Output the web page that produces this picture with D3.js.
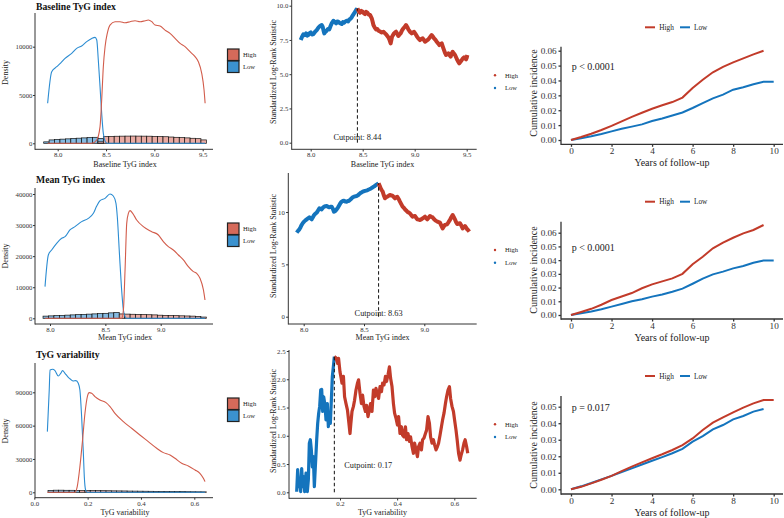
<!DOCTYPE html>
<html><head><meta charset="utf-8">
<script src="https://cdn.jsdelivr.net/npm/d3@7"></script>
<style>body{margin:0;background:#fff}svg{display:block}</style>
</head><body><svg id="c" width="784" height="518"></svg>
<script>
// ---------------- DATA ----------------
const panelTitles = ["Baseline TyG index", "Mean TyG index", "TyG variability"];
const groupLabels = ["High", "Low"];
const cutpoints = [8.44, 8.63, 0.177];
const cutLabels = ["Cutpoint: 8.44", "Cutpoint: 8.63", "Cutpoint: 0.17"];
const pLabels = ["p < 0.0001", "p < 0.0001", "p = 0.017"];
const kmXLabel = "Years of follow-up";
const kmYLabel = "Cumulative incidence";
const statYLabel = "Standardized Log-Rank Statistic";
const densYLabel = "Density";

// tick values
const densXTicks = [[8.0, 8.5, 9.0, 9.5], [8.0, 8.5, 9.0], [0.0, 0.2, 0.4, 0.6]];
const densYTicks = [[0, 5000, 10000], [0, 10000, 20000, 30000, 40000], [0, 30000, 60000, 90000]];
const statXTicks = [[8.0, 8.5, 9.0, 9.5], [8.0, 8.5, 9.0], [0.2, 0.4, 0.6]];
const statYTicks = [[0, 2.5, 5, 7.5, 10], [0, 5, 10], [0, 0.5, 1.0, 1.5, 2.0, 2.5]];
const kmXTicks = [0, 2, 4, 6, 8, 10];
const kmYTicks = [[0, 0.01, 0.02, 0.03, 0.04, 0.05, 0.06], [0, 0.01, 0.02, 0.03, 0.04, 0.05, 0.06], [0, 0.01, 0.02, 0.03, 0.04, 0.05]];

// histogram ranges and bin counts (30 bins each)
const baseHistRange = [7.855, 9.538];
const baseHistLow = [150,350,400,430,460,500,530,560,600,620,500,0,0,0,0,0,0,0,0,0,0,0,0,0,0,0,0,0,0,0];
const baseHistHigh = [0,0,0,0,0,0,0,0,0,0,150,700,720,730,740,745,750,745,740,735,720,700,680,650,620,590,560,520,480,350];
const meanHistRange = [7.937, 9.412];
const meanHistLow = [700,780,860,940,1020,1100,1180,1260,1340,1420,1500,1600,1750,1900,0,0,0,0,0,0,0,0,0,0,0,0,0,0,0,0];
const meanHistHigh = [0,0,0,0,0,0,0,0,0,0,0,0,0,0,1400,1350,1300,1250,1200,1150,1100,1000,950,900,850,800,750,700,600,400];
const varHistRange = [0.0514, 0.645];
const varHistLow = [1700,1900,1900,1800,1800,1700,0,0,0,0,0,0,0,0,0,0,0,0,0,0,0,0,0,0,0,0,0,0,0,0];
const varHistHigh = [0,0,0,0,0,0,1600,1600,1550,1500,1450,1400,1300,1250,1200,1100,1050,1000,950,900,850,800,750,700,650,600,550,500,450,400];

// density curves [x, density]
const baseLowDensity = [[7.896,4140],[7.938,7410],[7.99,7930],[8.03,8300],[8.076,8790],[8.145,9310],[8.197,9830],[8.248,10070],[8.30,10520],[8.352,10860],[8.386,10970],[8.404,10690],[8.42,8620],[8.438,5860],[8.455,3100],[8.472,1030],[8.50,70],[8.52,0],[9.525,0]];
const baseHighDensity = [[7.896,0],[8.352,0],[8.404,345],[8.438,1720],[8.455,4480],[8.472,7930],[8.49,10000],[8.513,11380],[8.541,12240],[8.593,12590],[8.645,12590],[8.697,12480],[8.748,12590],[8.80,12690],[8.852,12590],[8.904,12690],[8.938,12760],[8.973,12590],[9.007,12240],[9.059,12140],[9.11,11720],[9.162,11380],[9.214,10860],[9.266,10340],[9.317,10000],[9.369,9480],[9.421,8970],[9.455,8450],[9.49,7240],[9.514,5520],[9.525,4140]];
const meanLowDensity = [[7.955,10190],[7.985,20375],[8.015,21980],[8.06,24130],[8.105,25740],[8.136,26270],[8.18,28420],[8.226,29490],[8.286,31100],[8.346,32170],[8.392,33780],[8.422,36140],[8.452,37850],[8.497,38600],[8.542,40000],[8.572,39360],[8.596,37000],[8.608,32700],[8.627,20900],[8.645,10190],[8.663,2680],[8.678,540],[8.693,0],[9.40,0]];
const meanHighDensity = [[7.955,0],[8.648,0],[8.663,2680],[8.678,15550],[8.693,30560],[8.708,33780],[8.723,34640],[8.747,33780],[8.783,31630],[8.843,29490],[8.919,27880],[8.979,26810],[9.024,24660],[9.069,23060],[9.114,21980],[9.16,20375],[9.205,18770],[9.25,16620],[9.295,15010],[9.325,14480],[9.355,12870],[9.386,9120],[9.40,5900]];
const varLowDensity = [[0.049,54600],[0.056,92100],[0.059,110100],[0.069,110700],[0.0775,109500],[0.09,104700],[0.099,107100],[0.106,109500],[0.115,107100],[0.1275,103500],[0.136,101700],[0.146,100200],[0.156,100500],[0.165,98100],[0.171,92100],[0.1775,68100],[0.184,35100],[0.1875,14100],[0.1925,2100],[0.199,0],[0.64,0]];
const varHighDensity = [[0.049,0],[0.1525,0],[0.161,5100],[0.171,23100],[0.181,47100],[0.19,71100],[0.199,86100],[0.206,89700],[0.215,89100],[0.2275,86100],[0.246,83100],[0.269,80700],[0.284,77100],[0.3025,71100],[0.334,63600],[0.365,57600],[0.396,51600],[0.4275,45600],[0.459,39600],[0.484,35700],[0.509,33600],[0.5275,30600],[0.5525,26100],[0.5775,23700],[0.6025,20100],[0.621,17100],[0.634,12600],[0.64,9600]];

// standardized log-rank statistic [cut value, statistic]
const baseStatLow = [[7.904,7.49],[7.915,7.7],[7.929,7.91],[7.942,7.85],[7.955,7.98],[7.966,7.82],[7.978,7.86],[7.989,8.0],[8.0,8.05],[8.013,7.9],[8.026,7.93],[8.042,8.1],[8.058,8.22],[8.074,8.4],[8.09,8.52],[8.106,8.59],[8.115,8.47],[8.123,8.2],[8.131,7.98],[8.142,8.1],[8.154,8.18],[8.166,8.3],[8.179,8.27],[8.19,8.5],[8.202,8.71],[8.218,8.9],[8.231,8.8],[8.244,8.71],[8.255,8.85],[8.266,8.83],[8.282,8.72],[8.298,8.66],[8.31,8.8],[8.32,8.76],[8.333,8.85],[8.346,8.9],[8.36,8.85],[8.372,9.0],[8.383,9.05],[8.394,9.15],[8.405,9.3],[8.417,9.44],[8.427,9.55],[8.436,9.68],[8.449,9.8]];
const baseStatHigh = [[8.449,9.8],[8.462,9.6],[8.474,9.49],[8.487,9.62],[8.5,9.56],[8.511,9.45],[8.522,9.39],[8.533,9.55],[8.545,9.49],[8.558,9.35],[8.571,9.32],[8.587,9.08],[8.595,8.85],[8.603,8.59],[8.616,8.4],[8.628,8.27],[8.64,8.3],[8.651,8.18],[8.667,8.12],[8.683,8.05],[8.699,8.1],[8.715,7.98],[8.726,7.9],[8.737,7.79],[8.746,7.7],[8.756,7.54],[8.769,7.25],[8.776,7.5],[8.782,7.74],[8.801,7.98],[8.811,8.05],[8.821,8.1],[8.832,7.95],[8.843,7.79],[8.854,7.9],[8.865,7.98],[8.878,8.2],[8.891,8.35],[8.904,8.45],[8.917,8.59],[8.928,8.45],[8.939,8.27],[8.955,8.1],[8.971,7.98],[8.983,8.05],[8.994,8.1],[9.007,7.95],[9.019,7.79],[9.035,7.62],[9.051,7.49],[9.064,7.58],[9.077,7.62],[9.088,7.5],[9.099,7.37],[9.115,7.45],[9.131,7.54],[9.147,7.7],[9.163,7.86],[9.175,7.75],[9.186,7.62],[9.2,7.5],[9.212,7.37],[9.225,7.25],[9.237,7.13],[9.249,7.2],[9.26,7.25],[9.271,7.0],[9.282,6.76],[9.292,6.55],[9.301,6.4],[9.313,6.45],[9.324,6.52],[9.335,6.4],[9.346,6.28],[9.355,6.5],[9.365,6.64],[9.377,6.5],[9.388,6.4],[9.4,6.2],[9.41,6.03],[9.42,5.9],[9.429,5.79],[9.44,5.9],[9.452,6.03],[9.463,6.15],[9.474,6.23],[9.484,6.15],[9.494,6.08],[9.5,6.2],[9.506,6.4]];
const meanStatLow = [[7.942,8.03],[7.953,8.2],[7.964,8.34],[7.974,8.55],[7.983,8.76],[7.993,8.95],[8.003,9.08],[8.014,9.2],[8.025,9.3],[8.036,9.4],[8.047,9.49],[8.056,9.4],[8.066,9.3],[8.076,9.5],[8.086,9.71],[8.097,9.85],[8.108,9.94],[8.119,10.15],[8.13,10.35],[8.14,10.3],[8.149,10.25],[8.159,10.4],[8.169,10.51],[8.18,10.55],[8.191,10.57],[8.202,10.5],[8.213,10.45],[8.222,10.5],[8.232,10.51],[8.242,10.3],[8.251,10.03],[8.262,10.1],[8.273,10.25],[8.285,10.45],[8.296,10.67],[8.305,10.85],[8.315,10.99],[8.324,11.05],[8.334,11.08],[8.345,11.0],[8.356,10.99],[8.367,11.05],[8.378,11.08],[8.388,11.2],[8.398,11.31],[8.407,11.4],[8.417,11.46],[8.428,11.5],[8.439,11.53],[8.45,11.6],[8.461,11.72],[8.475,11.85],[8.489,11.94],[8.503,12.0],[8.517,12.04],[8.531,12.1],[8.544,12.17],[8.558,12.25],[8.572,12.36],[8.585,12.45],[8.599,12.58],[8.61,12.65],[8.621,12.74]];
const meanStatHigh = [[8.621,12.74],[8.63,12.5],[8.638,12.26],[8.646,12.1],[8.655,11.94],[8.664,11.6],[8.674,11.31],[8.683,11.4],[8.693,11.46],[8.704,11.55],[8.715,11.62],[8.727,11.58],[8.738,11.53],[8.747,11.42],[8.757,11.31],[8.766,11.4],[8.776,11.46],[8.787,11.25],[8.798,10.99],[8.809,10.75],[8.82,10.51],[8.83,10.4],[8.84,10.25],[8.85,10.15],[8.859,10.03],[8.87,9.95],[8.881,9.87],[8.892,9.7],[8.903,9.55],[8.913,9.6],[8.923,9.62],[8.932,9.45],[8.942,9.3],[8.953,9.27],[8.964,9.24],[8.975,9.3],[8.986,9.39],[8.996,9.47],[9.006,9.55],[9.015,9.42],[9.025,9.3],[9.036,9.45],[9.047,9.62],[9.058,9.55],[9.069,9.49],[9.078,9.35],[9.088,9.24],[9.098,9.15],[9.108,9.08],[9.119,9.03],[9.13,8.98],[9.141,8.7],[9.152,8.44],[9.161,8.6],[9.171,8.76],[9.181,8.8],[9.191,8.85],[9.202,9.05],[9.213,9.24],[9.224,9.5],[9.235,9.71],[9.245,9.5],[9.254,9.3],[9.263,9.05],[9.273,8.85],[9.285,8.9],[9.296,8.92],[9.307,8.7],[9.318,8.44],[9.328,8.55],[9.337,8.66],[9.347,8.5],[9.356,8.34],[9.365,8.25],[9.373,8.12]];
const varStatLow = [[0.0484,0.01],[0.0519,0.40],[0.0554,0.10],[0.0589,0.22],[0.0624,0.01],[0.0659,0.42],[0.0694,0.10],[0.0729,0.28],[0.0764,0.01],[0.0811,0.34],[0.0857,0.01],[0.0892,0.22],[0.0927,0.87],[0.0962,0.93],[0.0997,0.75],[0.1032,0.45],[0.1067,0.63],[0.1102,0.10],[0.1149,0.57],[0.1184,0.93],[0.1219,1.22],[0.1254,1.40],[0.1289,1.52],[0.1324,1.81],[0.1359,1.82],[0.1394,1.43],[0.1429,1.69],[0.1475,1.54],[0.151,1.28],[0.1557,1.57],[0.1592,1.16],[0.1627,1.40],[0.1662,1.22],[0.1697,1.63],[0.1732,2.05],[0.1767,2.22],[0.1802,2.40]];
const varStatHigh = [[0.180,2.40],[0.186,2.38],[0.192,2.28],[0.195,2.37],[0.200,2.13],[0.204,2.02],[0.207,1.93],[0.212,2.05],[0.216,1.69],[0.221,1.57],[0.226,1.46],[0.230,1.28],[0.235,1.04],[0.238,1.22],[0.242,1.43],[0.247,1.52],[0.251,1.63],[0.256,1.81],[0.261,1.93],[0.265,1.99],[0.270,1.75],[0.275,1.57],[0.279,1.72],[0.284,1.52],[0.289,1.43],[0.293,1.54],[0.298,1.34],[0.303,1.46],[0.307,1.57],[0.312,1.43],[0.317,1.81],[0.321,1.69],[0.326,1.84],[0.331,1.72],[0.335,1.66],[0.340,1.87],[0.345,1.78],[0.349,1.93],[0.354,1.90],[0.359,2.05],[0.363,1.96],[0.368,2.08],[0.373,2.22],[0.377,2.02],[0.382,1.87],[0.387,1.57],[0.391,1.40],[0.396,1.31],[0.401,1.19],[0.405,1.34],[0.410,1.04],[0.415,1.16],[0.419,1.01],[0.424,0.98],[0.429,1.16],[0.433,0.93],[0.438,1.04],[0.443,0.90],[0.447,0.98],[0.452,0.81],[0.457,0.69],[0.461,0.87],[0.466,0.75],[0.471,0.63],[0.475,0.81],[0.480,0.87],[0.485,0.75],[0.489,0.93],[0.494,0.96],[0.499,1.04],[0.503,1.10],[0.508,1.34],[0.513,1.22],[0.517,0.98],[0.522,0.87],[0.527,0.93],[0.531,0.84],[0.536,0.75],[0.541,0.81],[0.545,0.87],[0.550,1.01],[0.555,1.16],[0.559,1.28],[0.564,1.40],[0.569,1.57],[0.573,1.69],[0.578,1.81],[0.583,1.87],[0.587,1.66],[0.592,1.52],[0.597,1.43],[0.601,1.28],[0.606,1.10],[0.610,0.93],[0.615,0.69],[0.620,0.57],[0.624,0.66],[0.629,0.75],[0.634,0.87],[0.638,0.93],[0.643,0.81],[0.647,0.69]];

// cumulative incidence
const kmTimes = [0,0.5,1,1.5,2,2.5,3,3.5,4,4.5,5,5.5,6,6.5,7,7.5,8,8.5,9,9.5,10];
const baseKmHigh = [0,0.0020,0.0042,0.0067,0.0095,0.0125,0.0155,0.0183,0.0210,0.0233,0.0255,0.0285,0.0350,0.0405,0.0455,0.0492,0.0522,0.0548,0.0575,0.0600,null];
const baseKmLow  = [0,0.0012,0.0025,0.0040,0.0058,0.0075,0.0090,0.0105,0.0128,0.0145,0.0165,0.0185,0.0215,0.0248,0.0280,0.0305,0.0338,0.0355,0.0375,0.0392,0.0392];
const meanKmHigh = [0,0.0022,0.0045,0.0075,0.0109,0.0135,0.0160,0.0195,0.0223,0.0245,0.0267,0.0300,0.0370,0.0425,0.0486,0.0527,0.0563,0.0595,0.0620,0.0656,null];
const meanKmLow  = [0,0.0012,0.0025,0.0042,0.0061,0.0080,0.0100,0.0115,0.0134,0.0150,0.0170,0.0192,0.0228,0.0265,0.0296,0.0316,0.0340,0.0357,0.0381,0.0398,0.0398];
const varKmHigh  = [0,0.0015,0.0036,0.0058,0.0081,0.0110,0.0137,0.0163,0.0188,0.0212,0.0238,0.0268,0.0308,0.0359,0.0403,0.0435,0.0466,0.0494,0.0520,0.0540,0.0540];
const varKmLow   = [0,0.0018,0.0038,0.0060,0.0081,0.0105,0.0127,0.0150,0.0173,0.0195,0.0218,0.0245,0.0288,0.0322,0.0363,0.0389,0.0423,0.0444,0.0470,0.0486,null];

// ---------------- DRAWING ----------------
const FONT = '"Liberation Serif","Times New Roman",serif';
const AX = "#333";
const RED = "#C23B2A", BLUE = "#1474BD";
const RED_D = "#D25C4B", BLUE_D = "#2B8CD2";
const HIST_RED = "#E7A299", HIST_BLUE = "#78B2DE";
const LEG_RED = "#D56A5A", LEG_BLUE = "#3B92CF";

const svg = d3.select("#c");

function txt(g, x, y, s, size, opts = {}) {
  const t = g.append("text").attr("x", x).attr("y", y).text(s)
    .attr("font-family", FONT).attr("font-size", size).attr("fill", opts.fill || "#222");
  if (opts.anchor) t.attr("text-anchor", opts.anchor);
  if (opts.weight) t.attr("font-weight", opts.weight);
  if (opts.rotate) t.attr("transform", `rotate(-90,${x},${y})`);
  return t;
}

function axes(g, cfg, x, y, xt, yt, xfmt, yfmt, fs, tsz, xpad, ypad, sw) {
  const ax = g.append("g").attr("transform", `translate(0,${cfg.bottom})`)
    .call(d3.axisBottom(x).tickValues(xt).tickFormat(xfmt).tickSize(tsz).tickPadding(xpad));
  const ay = g.append("g").attr("transform", `translate(${cfg.axisX},0)`)
    .call(d3.axisLeft(y).tickValues(yt).tickFormat(yfmt).tickSize(tsz).tickPadding(ypad));
  [ax, ay].forEach(a => {
    a.select(".domain").remove();
    a.selectAll("line").attr("stroke", AX).attr("stroke-width", sw);
    a.selectAll("text").attr("font-family", FONT).attr("font-size", fs).attr("fill", "#333");
  });
  g.append("line").attr("x1", cfg.axisX).attr("x2", cfg.axisX).attr("y1", cfg.top).attr("y2", cfg.bottom + sw / 2)
    .attr("stroke", AX).attr("stroke-width", sw);
  g.append("line").attr("x1", cfg.axisX).attr("x2", cfg.right).attr("y1", cfg.bottom).attr("y2", cfg.bottom)
    .attr("stroke", AX).attr("stroke-width", sw);
}

// ---- density panels ----
const densCfg = [
  {axisX:35, top:13, bottom:149.3, right:213, xd:[8.0,9.5], xr:[57.7,202.7], yd:[0,10000], yr:[143.3,46.7], titleY:9.5, ylabY:72.5, xlabY:166.5, legY:49, hist:[baseHistRange, baseHistLow, baseHistHigh], low:baseLowDensity, high:baseHighDensity, xf:d3.format(".1f")},
  {axisX:35, top:188, bottom:324, right:213, xd:[8.0,9.0], xr:[50,160.7], yd:[0,40000], yr:[318.3,194], titleY:183, ylabY:256, xlabY:339.5, legY:223, hist:[meanHistRange, meanHistLow, meanHistHigh], low:meanLowDensity, high:meanHighDensity, xf:d3.format(".1f")},
  {axisX:35, top:363, bottom:497.7, right:213, xd:[0,0.6], xr:[34.3,194.3], yd:[0,90000], yr:[492.3,392.3], titleY:357.5, ylabY:431, xlabY:514.5, legY:398, hist:[varHistRange, varHistLow, varHistHigh], low:varLowDensity, high:varHighDensity, xf:d3.format(".1f")}
];

densCfg.forEach((c, i) => {
  const g = svg.append("g");
  const x = d3.scaleLinear().domain(c.xd).range(c.xr);
  const y = d3.scaleLinear().domain(c.yd).range(c.yr);
  const [rng, lowC, highC] = c.hist;
  const w = (rng[1] - rng[0]) / lowC.length;
  const bins = (arr) => arr.map((v, k) => ({x0: rng[0] + k * w, x1: rng[0] + (k + 1) * w, v})).filter(d => d.v > 0);
  [[lowC, HIST_BLUE], [highC, HIST_RED]].forEach(([arr, col]) => {
    g.selectAll(null).data(bins(arr)).enter().append("rect")
      .attr("x", d => x(d.x0)).attr("width", d => x(d.x1) - x(d.x0))
      .attr("y", d => y(d.v)).attr("height", d => y(0) - y(d.v))
      .attr("fill", col).attr("fill-opacity", 0.9).attr("stroke", "#111").attr("stroke-width", 0.7);
  });
  const line = d3.line().x(d => x(d[0])).y(d => y(d[1])).curve(d3.curveMonotoneX);
  g.append("path").attr("d", line(c.low)).attr("fill", "none").attr("stroke", BLUE_D).attr("stroke-width", 1.1);
  g.append("path").attr("d", line(c.high)).attr("fill", "none").attr("stroke", RED_D).attr("stroke-width", 1.1);
  axes(g, c, x, y, densXTicks[i], densYTicks[i], c.xf, d3.format("d"), 6.8, 2, 1, 0.5, 1);
  txt(g, 36, c.titleY, panelTitles[i], 9.7, {weight: "bold", fill: "#111"});
  txt(g, 7.5, c.ylabY, densYLabel, 8, {anchor: "middle", rotate: true});
  txt(g, 125, c.xlabY, panelTitles[i], 8, {anchor: "middle"});
  // legend
  [[LEG_RED, groupLabels[0]], [LEG_BLUE, groupLabels[1]]].forEach(([col, lab], k) => {
    g.append("rect").attr("x", 227.5).attr("y", c.legY + k * 12).attr("width", 11.5).attr("height", 11.5)
      .attr("fill", col).attr("stroke", "#222").attr("stroke-width", 1.2);
    txt(g, 243, c.legY + k * 12 + 8.3, lab, 6.6);
  });
});

// ---- standardized log-rank statistic panels ----
const statCfg = [
  {axisX:291.7, top:0, bottom:149.3, right:476.7, xd:[8.0,9.5], xr:[310.7,466.7], yd:[0,10], yr:[142.7,5.7], yf:d3.format(".1f"), ylabY:72, xlabY:166.5, low:baseStatLow, high:baseStatHigh, sw:4, cutTextY:139.5, cutAnchor:"middle", cutDx:0, legY:75.3},
  {axisX:288.3, top:173, bottom:324, right:476.7, xd:[8.0,9.0], xr:[303.7,424.3], yd:[0,10], yr:[316.7,212], yf:d3.format("d"), ylabY:246, xlabY:339.5, low:meanStatLow, high:meanStatHigh, sw:4, cutTextY:315.5, cutAnchor:"middle", cutDx:0, legY:250},
  {axisX:289, top:350, bottom:498.3, right:476.7, xd:[0.2,0.6], xr:[340,454.3], yd:[0,2.5], yr:[492.3,351], yf:d3.format(".1f"), ylabY:421, xlabY:514.5, low:varStatLow, high:varStatHigh, sw:3.2, cutTextY:467.5, cutAnchor:"start", cutDx:10, legY:424.3}
];

statCfg.forEach((c, i) => {
  const g = svg.append("g");
  const x = d3.scaleLinear().domain(c.xd).range(c.xr);
  const y = d3.scaleLinear().domain(c.yd).range(c.yr);
  const line = d3.line().x(d => x(d[0])).y(d => y(d[1]));
  g.append("path").attr("d", line(c.low)).attr("fill", "none").attr("stroke", BLUE).attr("stroke-width", c.sw).attr("stroke-linejoin", "round");
  g.append("path").attr("d", line(c.high)).attr("fill", "none").attr("stroke", RED).attr("stroke-width", c.sw).attr("stroke-linejoin", "round");
  const peak = c.low[c.low.length - 1][1];
  const cx = x(c.low[c.low.length - 1][0]);
  g.append("line").attr("x1", cx).attr("x2", cx).attr("y1", y(0)).attr("y2", y(peak))
    .attr("stroke", "#111").attr("stroke-width", 1).attr("stroke-dasharray", "3.5,2.5");
  txt(g, cx + c.cutDx, c.cutTextY, cutLabels[i], 8.3, {anchor: c.cutAnchor});
  axes(g, c, x, y, statXTicks[i], statYTicks[i], d3.format(".1f"), c.yf, 6.8, 2.2, 1, 1.2, 1);
  txt(g, 276, c.ylabY, statYLabel, 8, {anchor: "middle", rotate: true});
  txt(g, 382.5, c.xlabY, panelTitles[i], 8, {anchor: "middle"});
  [[RED, groupLabels[0]], [BLUE, groupLabels[1]]].forEach(([col, lab], k) => {
    g.append("circle").attr("cx", 495).attr("cy", c.legY + k * 12.7).attr("r", 1.2).attr("fill", col);
    txt(g, 505, c.legY + k * 12.7 + 2.2, lab, 6.5);
  });
});

// ---- cumulative incidence panels ----
const kmCfg = [
  {axisX:561, top:46.7, bottom:144.3, right:783, yd:[0,0.06], yr:[140,50.7], legY:27.3, pY:69.5, ylabY:93, xlabY:166, high:baseKmHigh, low:baseKmLow},
  {axisX:561, top:221.7, bottom:319, right:783, yd:[0,0.06], yr:[315,232.7], legY:201.7, pY:251, ylabY:270, xlabY:340.5, high:meanKmHigh, low:meanKmLow},
  {axisX:561, top:396, bottom:494, right:783, yd:[0,0.05], yr:[489.3,406.7], legY:376, pY:411, ylabY:445, xlabY:515.5, high:varKmHigh, low:varKmLow}
];

kmCfg.forEach((c, i) => {
  const g = svg.append("g");
  const x = d3.scaleLinear().domain([0, 10]).range([571, 773.7]);
  const y = d3.scaleLinear().domain(c.yd).range(c.yr);
  const line = d3.line().defined(d => d[1] !== null).x(d => x(d[0])).y(d => y(d[1]));
  g.append("path").attr("d", line(kmTimes.map((t, k) => [t, c.low[k]]))).attr("fill", "none").attr("stroke", BLUE).attr("stroke-width", 2);
  g.append("path").attr("d", line(kmTimes.map((t, k) => [t, c.high[k]]))).attr("fill", "none").attr("stroke", RED).attr("stroke-width", 2);
  axes(g, c, x, y, kmXTicks, kmYTicks[i], d3.format("d"), d3.format(".2f"), 9.2, 2.5, 1, 1.8, 1.3);
  txt(g, 536.5, c.ylabY, kmYLabel, 10, {anchor: "middle", rotate: true});
  txt(g, 672, c.xlabY, kmXLabel, 10, {anchor: "middle"});
  txt(g, 571.7, c.pY, pLabels[i], 10);
  // top legend
  g.append("line").attr("x1", 645).attr("x2", 655).attr("y1", c.legY).attr("y2", c.legY).attr("stroke", RED).attr("stroke-width", 2);
  txt(g, 659.3, c.legY + 2.6, groupLabels[0], 7.3);
  g.append("line").attr("x1", 680).attr("x2", 690).attr("y1", c.legY).attr("y2", c.legY).attr("stroke", BLUE).attr("stroke-width", 2);
  txt(g, 694, c.legY + 2.6, groupLabels[1], 7.3);
});
</script>
</body></html>
